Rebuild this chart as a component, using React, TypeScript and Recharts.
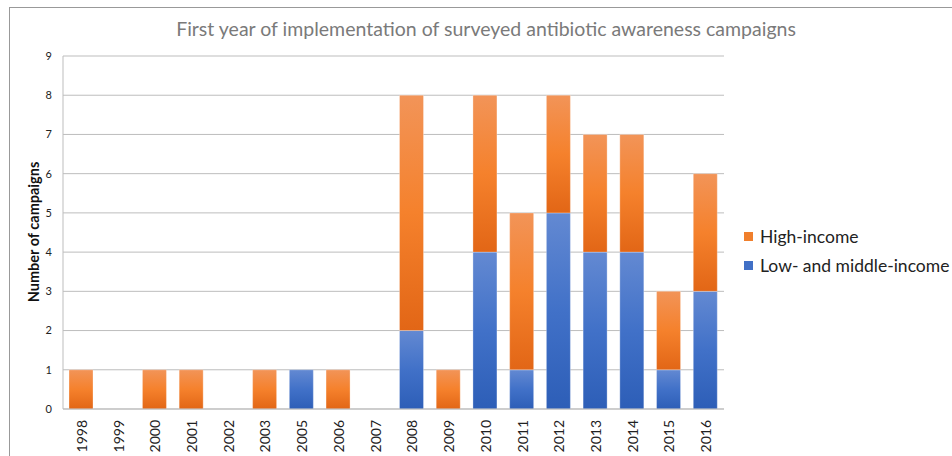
import { Bar, BarChart, CartesianGrid, Label, XAxis, YAxis } from "recharts"

const years = ["1998", "1999", "2000", "2001", "2002", "2003", "2005", "2006", "2007", "2008", "2009", "2010", "2011", "2012", "2013", "2014", "2015", "2016"]
const lowMiddle = [0, 0, 0, 0, 0, 0, 1, 0, 0, 2, 0, 4, 1, 5, 4, 4, 1, 3]
const highIncome = [1, 0, 1, 1, 0, 1, 0, 1, 0, 6, 1, 4, 4, 3, 3, 3, 2, 3]
const yTicks = [0, 1, 2, 3, 4, 5, 6, 7, 8, 9]

const data = years.map((year, i) => ({ year, low: lowMiddle[i], high: highIncome[i] }))

const font = "Lato, 'Open Sans', sans-serif"

const YearTick = (props: any) => {
    const { x, payload } = props
    return (
        <text
            transform={`translate(${x},420) rotate(-90)`}
            textAnchor="end"
            dominantBaseline="central"
            fontSize={14}
            fill="#222"
            fontFamily={font}
        >
            {payload.value}
        </text>
    )
}

const legendItems = [
    { label: "High-income", color: "#f07f2c" },
    { label: "Low- and middle-income", color: "#4170c6" },
]

const LegendBox = () => (
    <div style={{ position: "absolute", left: 744, top: 222, fontFamily: font, fontSize: 17.5, color: "#222" }}>
        {legendItems.map((item) => (
            <div key={item.label} style={{ display: "flex", alignItems: "center", height: 29 }}>
                <span style={{ width: 9, height: 9, background: item.color, marginRight: 7, display: "inline-block" }} />
                {item.label}
            </div>
        ))}
    </div>
)

export default function App() {
    return (
        <div style={{ position: "absolute", left: 0, top: 0, width: 952, height: 456, background: "#fff" }}>
            <div style={{ position: "absolute", left: 9, top: 7, width: 943, height: 449, borderTop: "1.5px solid #999", borderLeft: "1.5px solid #999" }} />
            <div style={{ position: "absolute", left: 0, top: 17, width: 972, textAlign: "center", fontFamily: font, fontSize: 19.5, color: "#7a7a7a" }}>
                First year of implementation of surveyed antibiotic awareness campaigns
            </div>
            <div style={{ position: "absolute", left: 0, top: 0 }}>
                <BarChart width={952} height={456} data={data} margin={{ top: 56, right: 228, left: 33, bottom: 0 }}>
                    <defs>
                        <linearGradient id="gradHigh" x1="0" y1="0" x2="0" y2="1">
                            <stop offset="0%" stopColor="#f29458" />
                            <stop offset="50%" stopColor="#f5812c" />
                            <stop offset="100%" stopColor="#e26616" />
                        </linearGradient>
                        <linearGradient id="gradLow" x1="0" y1="0" x2="0" y2="1">
                            <stop offset="0%" stopColor="#6389d2" />
                            <stop offset="50%" stopColor="#4171c8" />
                            <stop offset="100%" stopColor="#2d5eb7" />
                        </linearGradient>
                    </defs>
                    <CartesianGrid vertical={false} stroke="#bdbdbd" strokeWidth={1} />
                    <XAxis
                        dataKey="year"
                        interval={0}
                        height={47}
                        tickLine={false}
                        axisLine={{ stroke: "#bdbdbd" }}
                        tick={<YearTick />}
                    />
                    <YAxis
                        width={30}
                        domain={[0, 9]}
                        ticks={yTicks}
                        interval={0}
                        tickLine={false}
                        axisLine={{ stroke: "#bdbdbd" }}
                        tickSize={6}
                        tickMargin={5}
                        tick={{ fontSize: 11, fill: "#222", fontFamily: font }}
                    >
                        <Label
                            content={() => (
                                <text
                                    x={33}
                                    y={232}
                                    transform="rotate(-90 33 232)"
                                    textAnchor="middle"
                                    dominantBaseline="central"
                                    fontSize={14.5}
                                    fontWeight="bold"
                                    fill="#111"
                                    fontFamily={font}
                                >
                                    Number of campaigns
                                </text>
                            )}
                        />
                    </YAxis>
                    <Bar dataKey="low" stackId="a" fill="url(#gradLow)" barSize={24} stroke="#ffffff" strokeOpacity={0.6} strokeWidth={0.5} isAnimationActive={false} />
                    <Bar dataKey="high" stackId="a" fill="url(#gradHigh)" barSize={24} stroke="#ffffff" strokeOpacity={0.6} strokeWidth={0.5} isAnimationActive={false} />
                </BarChart>
            </div>
            <LegendBox />
        </div>
    )
}
